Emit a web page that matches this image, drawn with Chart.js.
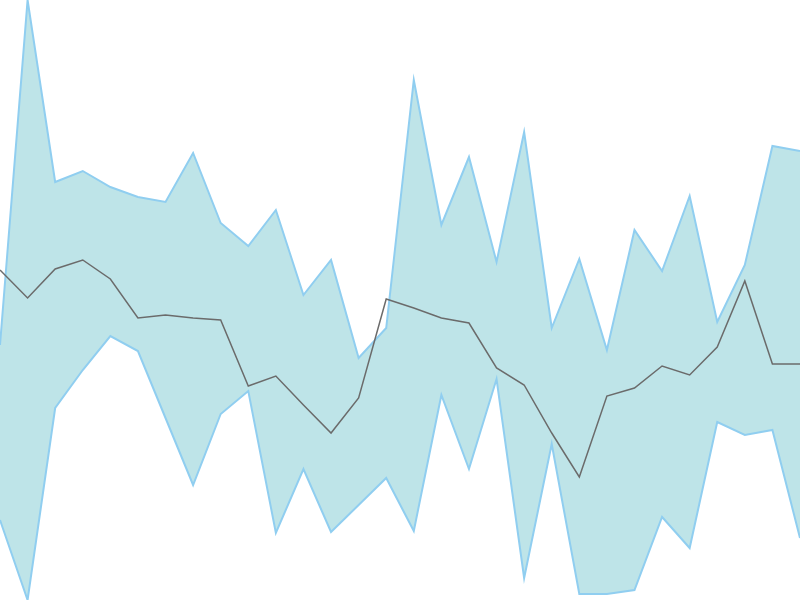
<!DOCTYPE html>
<html>
<head>
<meta charset="utf-8">
<script src="https://cdn.jsdelivr.net/npm/chart.js@4"></script>
<style>
  html, body { margin: 0; padding: 0; background: #fff; }
  canvas { display: block; }
</style>
</head>
<body>
<canvas id="chart" width="800" height="600"></canvas>
<script>
// band limits and middle line, one value per step
const labels = [0,1,2,3,4,5,6,7,8,9,10,11,12,13,14,15,16,17,18,19,20,21,22,23,24,25,26,27,28,29];
const upper = [255,600,418,429,413,403,398,447,377,354,390,305,340,242,272,520,375,443,338,468,272,341,250,370,329,404,278,335,454,449];
const lower = [80,0,192,230,264,249,182,115,186,209,67,131,68,95,122,69,205,131,221,22,156,6,6,10,83,52,178,165,170,62];
const middle = [330,302,331,340,321,282,285,282,280,214,224,195,167,202,301,292,282,277,232,215,167,123,204,212,234,225,253,319,236,236];

const bandLine = "rgb(144,206,240)";
const bandFill = "rgb(190,228,232)";

new Chart(document.getElementById("chart"), {
  type: "line",
  data: {
    labels: labels,
    datasets: [
      {
        data: middle,
        borderColor: "#6b6b6b",
        borderWidth: 1.5,
        fill: false
      },
      {
        data: upper,
        borderColor: bandLine,
        borderWidth: 2,
        backgroundColor: bandFill,
        fill: "+1"
      },
      {
        data: lower,
        borderColor: bandLine,
        borderWidth: 2,
        fill: false
      }
    ]
  },
  options: {
    responsive: false,
    animation: false,
    layout: { padding: 0 },
    elements: { point: { radius: 0 }, line: { tension: 0 } },
    plugins: {
      legend: { display: false },
      tooltip: { enabled: false },
      filler: { drawTime: "beforeDatasetsDraw" }
    },
    scales: {
      x: { type: "linear", min: 0, max: 29, display: false },
      y: { min: 0, max: 600, display: false }
    }
  }
});
</script>
</body>
</html>
